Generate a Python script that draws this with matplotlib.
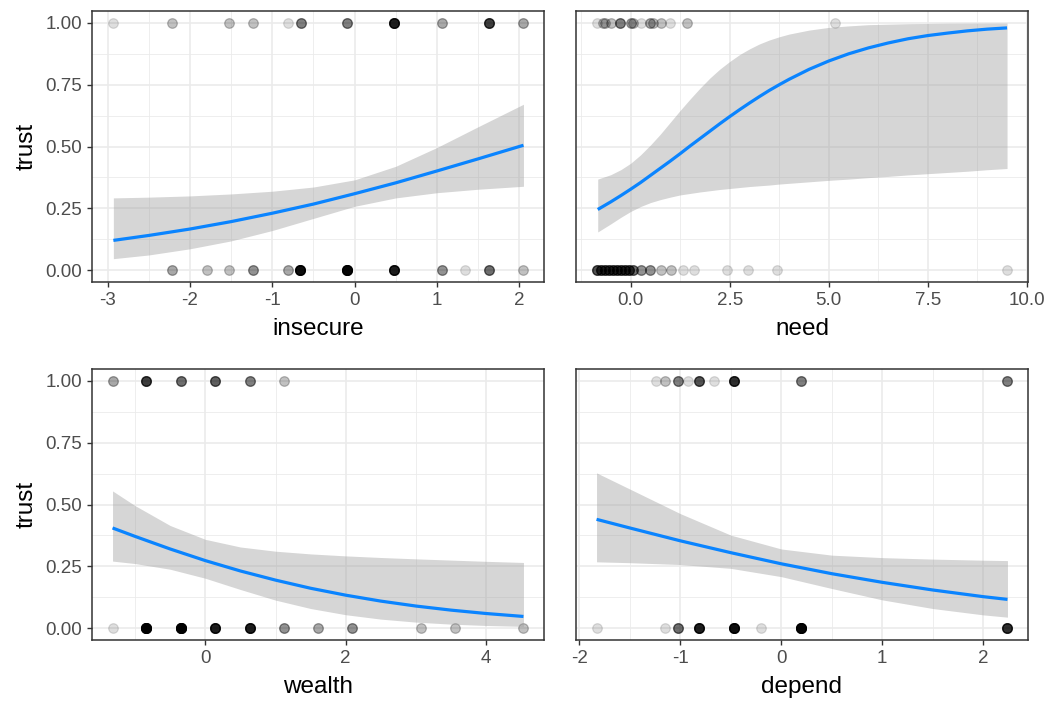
import numpy as np
import matplotlib
matplotlib.use("Agg")
import matplotlib.pyplot as plt

plt.rcParams['font.family'] = ['Liberation Sans', 'DejaVu Sans']
plt.rcParams['axes.unicode_minus'] = False

# ---------------- data ----------------
# insecure panel
ins_x1 = [-2.94, -2.22, -1.52, -1.23, -0.81, -0.65, -0.09, 0.48, 1.06, 1.63, 2.05]
ins_n1 = [1, 2, 2, 2, 1, 5, 5, 15, 3, 10, 3]
ins_x0 = [-2.22, -1.79, -1.52, -1.23, -0.81, -0.66, -0.09, 0.48, 1.06, 1.34, 1.63, 2.05]
ins_n0 = [3, 2, 2, 4, 3, 20, 25, 15, 4, 1, 6, 2]
ins_cx = [-2.93, -2.5, -2.0, -1.5, -1.0, -0.5, 0.0, 0.5, 1.0, 1.5, 2.05]
ins_fit = [0.120, 0.140, 0.166, 0.196, 0.230, 0.267, 0.309, 0.353, 0.401, 0.450, 0.505]
ins_hi = [0.292, 0.295, 0.300, 0.308, 0.319, 0.336, 0.365, 0.420, 0.496, 0.580, 0.671]
ins_lo = [0.046, 0.061, 0.086, 0.118, 0.160, 0.209, 0.258, 0.292, 0.313, 0.327, 0.339]

# need panel
need_x1 = [-0.86, -0.70, -0.65, -0.50, -0.28, 0.0, 0.06, 0.25, 0.49, 0.56, 0.76, 0.99, 1.43, 5.15]
need_n1 = [1, 2, 2, 2, 5, 3, 2, 1, 3, 2, 2, 1, 2, 1]
need_x0 = [-0.86, -0.75, -0.65, -0.55, -0.45, -0.35, -0.25, -0.15, -0.05, 0.05,
           0.27, 0.49, 0.77, 1.02, 1.33, 1.61, 2.42, 2.97, 3.70, 9.51]
need_n0 = [8, 8, 8, 8, 8, 8, 8, 8, 8, 6, 4, 4, 2, 2, 1, 1, 1, 1, 1, 1]
need_cx = [-0.83, -0.5, -0.25, 0.0, 0.25, 0.5, 0.75, 1.0, 1.25, 1.5, 1.75, 2.0, 2.25,
           2.5, 2.75, 3.0, 3.25, 3.5, 3.75, 4.0, 4.5, 5.0, 5.5, 6.0, 6.5, 7.0, 7.5,
           8.0, 8.5, 9.0, 9.5]
need_fit = [0.245, 0.276, 0.301, 0.327, 0.354, 0.383, 0.412, 0.441, 0.471, 0.502, 0.532,
            0.562, 0.592, 0.621, 0.649, 0.676, 0.702, 0.727, 0.750, 0.772, 0.812, 0.846,
            0.875, 0.899, 0.919, 0.936, 0.949, 0.959, 0.968, 0.975, 0.980]
need_hi = [0.368, 0.386, 0.406, 0.432, 0.466, 0.506, 0.550, 0.598, 0.646, 0.692, 0.736,
           0.777, 0.813, 0.844, 0.872, 0.895, 0.915, 0.931, 0.944, 0.955, 0.971, 0.982,
           0.988, 0.993, 0.995, 0.997, 0.998, 0.999, 0.9993, 0.9995, 0.9997]
need_lo = [0.154, 0.187, 0.213, 0.237, 0.257, 0.273, 0.285, 0.295, 0.304, 0.310, 0.316,
           0.321, 0.326, 0.330, 0.334, 0.338, 0.341, 0.344, 0.348, 0.351, 0.357, 0.363,
           0.368, 0.374, 0.379, 0.385, 0.390, 0.395, 0.400, 0.406, 0.411]

# wealth panel
wea_x1 = [-1.32, -0.84, -0.35, 0.14, 0.63, 1.12]
wea_n1 = [3, 10, 6, 7, 5, 2]
wea_x0 = [-1.32, -0.84, -0.35, 0.14, 0.63, 1.12, 1.61, 2.09, 3.07, 3.56, 4.53]
wea_n0 = [1, 30, 30, 15, 15, 4, 3, 4, 2, 2, 2]
wea_cx = [-1.32, -1.0, -0.5, 0.0, 0.5, 1.0, 1.5, 2.0, 2.5, 3.0, 3.5, 4.0, 4.53]
wea_fit = [0.405, 0.371, 0.320, 0.273, 0.231, 0.194, 0.161, 0.133, 0.109, 0.089, 0.0725,
           0.0588, 0.0469]
wea_hi = [0.555, 0.4955, 0.415, 0.359, 0.328, 0.311, 0.300, 0.292, 0.2855, 0.280, 0.275,
          0.270, 0.2654]
wea_lo = [0.271, 0.261, 0.238, 0.2016, 0.156, 0.113, 0.079, 0.0539, 0.0361, 0.0240, 0.0158,
          0.0104, 0.0067]

# depend panel
dep_x1 = [-1.24, -1.15, -1.02, -0.92, -0.82, -0.67, -0.47, 0.20, 2.24]
dep_n1 = [1, 2, 5, 1, 8, 1, 12, 5, 5]
dep_x0 = [-1.83, -1.15, -1.02, -0.82, -0.47, -0.20, 0.20, 2.24]
dep_n0 = [1, 1, 6, 15, 20, 1, 25, 12]
dep_cx = [-1.83, -1.5, -1.0, -0.5, 0.0, 0.5, 1.0, 1.5, 2.0, 2.24]
dep_fit = [0.440, 0.405, 0.353, 0.305, 0.260, 0.220, 0.185, 0.154, 0.127, 0.116]
dep_hi = [0.628, 0.5625, 0.463, 0.376, 0.320, 0.295, 0.285, 0.279, 0.2746, 0.273]
dep_lo = [0.268, 0.2645, 0.257, 0.2415, 0.208, 0.160, 0.114, 0.079, 0.0533, 0.044]

y_ticks = [0.0, 0.25, 0.5, 0.75, 1.0]
y_labels = ["0.00", "0.25", "0.50", "0.75", "1.00"]

panels = [
    dict(name="insecure", x1=ins_x1, n1=ins_n1, x0=ins_x0, n0=ins_n0, cx=ins_cx, fit=ins_fit,
         hi=ins_hi, lo=ins_lo, ticks=[-3, -2, -1, 0, 1, 2], labels=["-3", "-2", "-1", "0", "1", "2"],
         minor=[-2.5, -1.5, -0.5, 0.5, 1.5], pos=(92, 10.6), ylab=True),
    dict(name="need", x1=need_x1, n1=need_n1, x0=need_x0, n0=need_n0, cx=need_cx, fit=need_fit,
         hi=need_hi, lo=need_lo, ticks=[0, 2.5, 5, 7.5, 10], labels=["0.0", "2.5", "5.0", "7.5", "10.0"],
         minor=[-1.25, 1.25, 3.75, 6.25, 8.75], pos=(576, 10.6), ylab=False),
    dict(name="wealth", x1=wea_x1, n1=wea_n1, x0=wea_x0, n0=wea_n0, cx=wea_cx, fit=wea_fit,
         hi=wea_hi, lo=wea_lo, ticks=[0, 2, 4], labels=["0", "2", "4"],
         minor=[-1, 1, 3], pos=(92, 368.6), ylab=True),
    dict(name="depend", x1=dep_x1, n1=dep_n1, x0=dep_x0, n0=dep_n0, cx=dep_cx, fit=dep_fit,
         hi=dep_hi, lo=dep_lo, ticks=[-2, -1, 0, 1, 2], labels=["-2", "-1", "0", "1", "2"],
         minor=[-1.5, -0.5, 0.5, 1.5], pos=(576, 368.6), ylab=False),
]

W, H = 1051, 702
fig = plt.figure(figsize=(W / 100, H / 100), dpi=100)
pw, ph = 452, 271.8
grid_col = "#EBEBEB"

for p in panels:
    x0p, y0p = p["pos"]
    ax = fig.add_axes([x0p / W, 1 - (y0p + ph) / H, pw / W, ph / H])
    allx = p["x1"] + p["x0"] + p["cx"]
    lo_, hi_ = min(allx), max(allx)
    pad = 0.05 * (hi_ - lo_)
    ax.set_xlim(lo_ - pad, hi_ + pad)
    ax.set_ylim(-0.05, 1.05)

    # grid
    for m in p["minor"]:
        ax.axvline(m, color=grid_col, lw=0.6, zorder=0)
    for m in [0.125, 0.375, 0.625, 0.875]:
        ax.axhline(m, color=grid_col, lw=0.6, zorder=0)
    for t in p["ticks"]:
        ax.axvline(t, color=grid_col, lw=1.2, zorder=0)
    for t in y_ticks:
        ax.axhline(t, color=grid_col, lw=1.2, zorder=0)

    # points
    xs1 = np.repeat(p["x1"], p["n1"])
    xs0 = np.repeat(p["x0"], p["n0"])
    ax.scatter(xs1, np.ones_like(xs1), s=48, color="black", alpha=0.13, lw=0.9, zorder=2)
    ax.scatter(xs0, np.zeros_like(xs0), s=48, color="black", alpha=0.13, lw=0.9, zorder=2)

    # ribbon + fit
    ax.fill_between(p["cx"], p["lo"], p["hi"], color="#999999", alpha=0.4, lw=0, zorder=3)
    ax.plot(p["cx"], p["fit"], color="#0A84FF", lw=2.3, zorder=4, solid_capstyle="butt",
            solid_joinstyle="round")

    ax.set_xticks(p["ticks"])
    ax.set_xticklabels(p["labels"])
    ax.set_xlabel(p["name"], fontsize=17.5, color="black", labelpad=6.5)
    if p["ylab"]:
        ax.set_yticks(y_ticks)
        ax.set_yticklabels(y_labels)
        ax.set_ylabel("trust", fontsize=17.5, color="black", labelpad=6)
        ax.tick_params(axis="y", length=3.5, width=1, color="#333333", labelcolor="#4D4D4D",
                       labelsize=13.5, pad=3.5)
    else:
        ax.set_yticks([])
    ax.tick_params(axis="x", length=3.5, width=1, color="#333333", labelcolor="#4D4D4D",
                   labelsize=13.5, pad=3.5)
    for s in ax.spines.values():
        s.set_color("#333333")
        s.set_linewidth(1.1)
    ax.set_facecolor("white")

fig.savefig("out.png", dpi=100, facecolor="white")
